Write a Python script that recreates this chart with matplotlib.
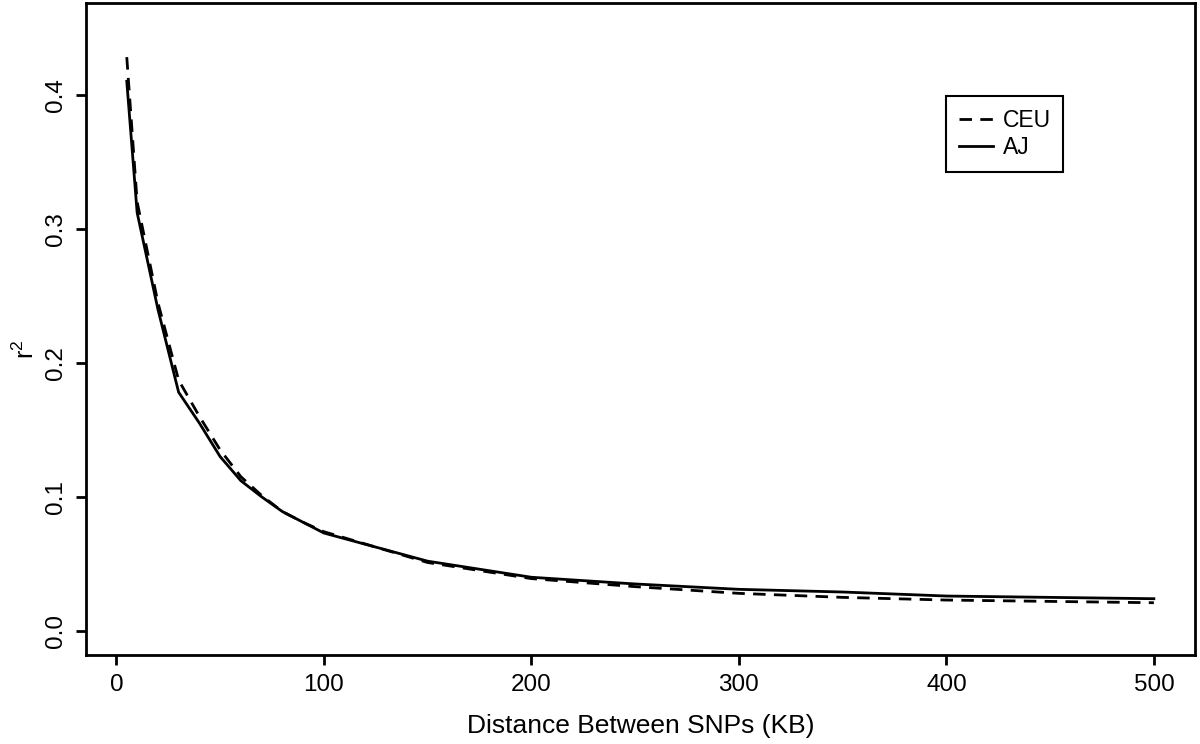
import matplotlib.pyplot as plt

plt.rcParams['font.family'] = ['Liberation Sans', 'DejaVu Sans']

# distance between SNPs (KB)
distance = [5, 10, 20, 30, 40, 50, 60, 70, 80, 90, 100,
            150, 200, 250, 300, 350, 400, 450, 500]

# mean r^2 per distance bin
ceu_r2 = [0.428, 0.320, 0.245, 0.187, 0.160, 0.135, 0.115, 0.101, 0.089, 0.081, 0.074,
          0.051, 0.039, 0.033, 0.028, 0.025, 0.023, 0.022, 0.021]
aj_r2 = [0.410, 0.312, 0.240, 0.178, 0.155, 0.130, 0.112, 0.100, 0.089, 0.081, 0.073,
         0.052, 0.040, 0.035, 0.031, 0.029, 0.026, 0.025, 0.024]

fig = plt.figure(figsize=(12, 7.44), dpi=100)
ax = fig.add_axes([0.0714, 0.1196, 0.9244, 0.8757])

ax.plot(distance, ceu_r2, color='black', lw=2.0, linestyle=(0, (4.5, 3)), label='CEU')
ax.plot(distance, aj_r2, color='black', lw=2.0, label='AJ')

ax.set_xlim(-14.8, 519.8)
ax.set_ylim(-0.018, 0.468)
ax.set_xticks([0, 100, 200, 300, 400, 500])
ax.set_yticks([0.0, 0.1, 0.2, 0.3, 0.4])
ax.set_yticklabels(['0.0', '0.1', '0.2', '0.3', '0.4'], rotation=90, va='center')

for s in ax.spines.values():
    s.set_linewidth(2.0)
ax.tick_params(length=7.5, width=2.0, labelsize=17.5, pad=6)

ax.set_xlabel('Distance Between SNPs (KB)', fontsize=19)
ax.xaxis.set_label_coords(0.5, -0.09)
ax.set_ylabel(r'$\mathregular{r^2}$', fontsize=18)
ax.yaxis.set_label_coords(-0.042, 0.47)

leg = ax.legend(loc='upper left', bbox_to_anchor=(0.776, 0.858), borderaxespad=0,
                fontsize=16.5, frameon=True, fancybox=False, framealpha=1,
                handlelength=1.5, handletextpad=0.4, borderpad=0.55, labelspacing=0.2)
leg.get_frame().set_edgecolor('black')
leg.get_frame().set_linewidth(1.5)

fig.savefig('out.png', dpi=100)
